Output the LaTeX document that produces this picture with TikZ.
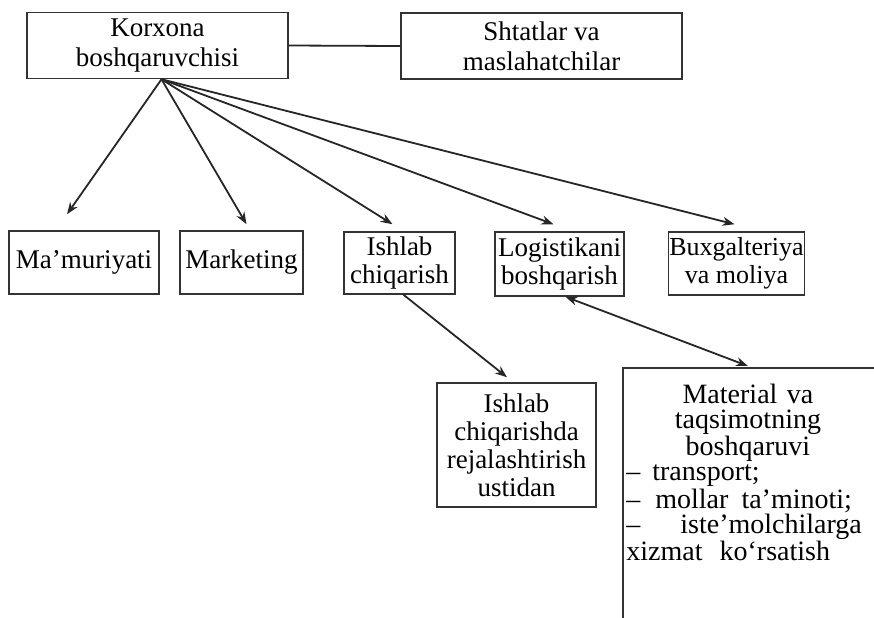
\documentclass[tikz,border=0pt]{standalone}
\usepackage{fontspec}
\setmainfont{Liberation Serif}
\usetikzlibrary{arrows.meta}

\tikzset{
  boxline/.style={draw=black!80, line width=0.75pt},
  box/.style={boxline, align=center, inner sep=0.5pt, font=\fontsize{13.5}{14}\selectfont},
  topbox/.style={box, font=\fontsize{13.5}{15}\selectfont},
  link/.style={draw=black!85, line width=0.9pt},
  >={Stealth[length=6pt,width=4.5pt]}
}

\begin{document}
\begin{tikzpicture}[x=0.5pt,y=-0.5pt]
  \useasboundingbox (0,0) rectangle (874,617);
  \clip (0,0) rectangle (874,617);

  % top level
  \node[topbox, minimum width=130.5pt, minimum height=33pt] (korx) at (157.5,45.5) {Korxona\\boshqaruvchisi};
  \node[topbox, minimum width=140.5pt, minimum height=33pt] (shtat) at (541.5,46) {Shtatlar va\\maslahatchilar};

  % departments
  \node[box, minimum width=75pt, minimum height=31.5pt] (mamur) at (84,262.5) {Ma’muriyati};
  \node[box, minimum width=61.5pt, minimum height=31.5pt] (mark) at (241.5,262.5) {Marketing};
  \node[box, minimum width=55.5pt, minimum height=31pt] (ishlab) at (399.5,263) {Ishlab\\chiqarish};
  \node[box, minimum width=64.5pt, minimum height=32pt] (logist) at (559.5,264) {Logistikani\\boshqarish};
  \node[box, minimum width=67.5pt, minimum height=31.5pt, font=\fontsize{13}{14}\selectfont] (buxg) at (736.5,263.5) {Buxgalteriya\\va moliya};

  % lower level
  \node[box, minimum width=79.5pt, minimum height=62pt] (reja) at (516.5,445) {Ishlab\\chiqarishda\\rejalashtirish\\ustidan};
  \node[anchor=north west, text width=121.5pt, inner sep=1.5pt, align=left,
        font=\fontsize{14}{12.5}\selectfont] (mat) at (623,368)
    {{\centering\rule{0pt}{16pt}Material va\\taqsimotning\\boshqaruvi\par}
     –\hspace{6pt}transport;\\
     –\hspace{7.5pt}mollar\hspace{6.5pt}ta’minoti;\\
     –\hspace{20pt}iste’molchilarga\\
     xizmat\hspace{8.5pt}ko‘rsatish};
  \draw[boxline] (mat.north west) rectangle ++(300,300);

  % connectors
  \draw[link] (korx.east) -- (shtat.west);
  \draw[link,->] ([xshift=2pt]korx.south) -- ([shift={(-17,-16)}]mamur.north);
  \draw[link,->] ([xshift=2pt]korx.south) -- ([shift={(5,-6)}]mark.north);
  \draw[link,->] ([xshift=2pt]korx.south) -- ([shift={(-7,-7)}]ishlab.north);
  \draw[link,->] ([xshift=2pt]korx.south) -- ([shift={(-6,-7)}]logist.north);
  \draw[link,->] ([xshift=2pt]korx.south) -- ([shift={(-2,-7)}]buxg.north);
  \draw[link,->] ([xshift=2pt]ishlab.south) -- ([shift={(-9.5,-5)}]reja.north);
  \draw[link,<->] ([xshift=3pt]logist.south) -- ([yshift=1pt]mat.north);
\end{tikzpicture}
\end{document}
